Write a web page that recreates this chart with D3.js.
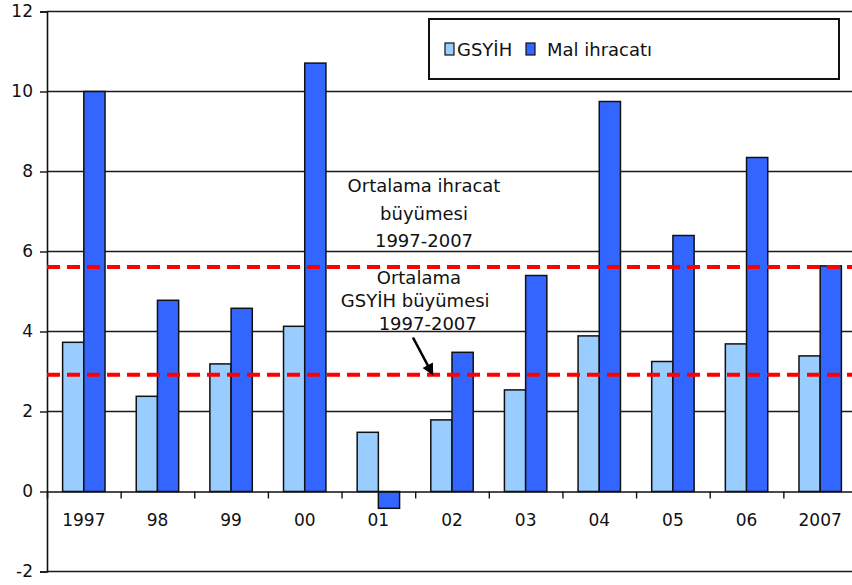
<!DOCTYPE html>
<html>
<head>
<meta charset="utf-8">
<script src="https://cdn.jsdelivr.net/npm/d3@7"></script>
<style>
  html, body { margin: 0; padding: 0; background: #fff; }
  svg { display: block; }
</style>
</head>
<body>
<div id="chart"></div>
<script>
// Data
const years = ["1997", "98", "99", "00", "01", "02", "03", "04", "05", "06", "2007"];
const gsyih = [3.73, 2.38, 3.19, 4.13, 1.48, 1.79, 2.54, 3.89, 3.25, 3.69, 3.39];
const malIhracati = [10.0, 4.78, 4.58, 10.71, -0.42, 3.48, 5.4, 9.75, 6.4, 8.35, 5.64];
const seriesNames = ["GSYİH", "Mal ihracatı"];
const yTicks = [-2, 0, 2, 4, 6, 8, 10, 12];
const avgExportGrowth = 5.61;
const avgGdpGrowth = 2.92;

const width = 852, height = 585;
const colors = { "GSYİH": "#99ccff", "Mal ihracatı": "#3366ff" };

const svg = d3.select("#chart")
  .append("svg")
  .attr("width", width)
  .attr("height", height);

// Scales
const y = d3.scaleLinear().domain([-2, 12]).range([571.5, 11.5]);
const x0 = d3.scaleBand()
  .domain(years)
  .range([47, 857])
  .paddingInner(0.424)
  .paddingOuter(0.212);
const x1 = d3.scaleBand()
  .domain(seriesNames)
  .range([0, x0.bandwidth()]);
// category index scale (group boundaries)
const xi = d3.scaleLinear().domain([0, years.length]).range([47, 857]);

// Gridlines
svg.append("g")
  .selectAll("line")
  .data(yTicks.filter(d => d > 0))
  .enter()
  .append("line")
  .attr("x1", xi(0))
  .attr("x2", xi(years.length))
  .attr("y1", d => y(d))
  .attr("y2", d => y(d))
  .attr("stroke", "#1a1a1a")
  .attr("stroke-width", 1.4);

// bottom border of plot area
svg.append("line")
  .attr("x1", xi(0)).attr("x2", xi(years.length))
  .attr("y1", y(-2)).attr("y2", y(-2))
  .attr("stroke", "#1a1a1a").attr("stroke-width", 1.6);

// Bars
const rows = years.map((yr, i) => ({ year: yr, values: [
  { key: "GSYİH", value: gsyih[i] },
  { key: "Mal ihracatı", value: malIhracati[i] }
]}));

svg.append("g")
  .selectAll("g")
  .data(rows)
  .enter()
  .append("g")
  .attr("transform", d => `translate(${x0(d.year)},0)`)
  .selectAll("rect")
  .data(d => d.values)
  .enter()
  .append("rect")
  .attr("x", d => x1(d.key))
  .attr("y", d => y(Math.max(0, d.value)))
  .attr("width", x1.bandwidth())
  .attr("height", d => Math.abs(y(d.value) - y(0)))
  .attr("fill", d => colors[d.key])
  .attr("stroke", "#111")
  .attr("stroke-width", 1.5);

// Y axis
const yAxis = d3.axisLeft(y)
  .tickValues(yTicks)
  .tickSize(7)
  .tickPadding(7)
  .tickFormat(d => String(d));
const gy = svg.append("g")
  .attr("transform", `translate(${xi(0)},0)`)
  .call(yAxis);
gy.select(".domain").attr("stroke", "#111").attr("stroke-width", 1.6);
gy.selectAll(".tick line").attr("stroke", "#111").attr("stroke-width", 1.4);
gy.selectAll("text")
  .attr("font-family", "DejaVu Sans, Verdana, sans-serif")
  .attr("font-size", 17)
  .attr("fill", "#111");

// X axis at zero: tick marks between groups
const xTickAxis = d3.axisBottom(xi)
  .tickValues(d3.range(1, years.length))
  .tickSize(7)
  .tickFormat("");
const gx = svg.append("g")
  .attr("transform", `translate(0,${y(0)})`)
  .call(xTickAxis);
gx.select(".domain").attr("stroke", "#111").attr("stroke-width", 1.6);
gx.selectAll(".tick line").attr("stroke", "#111").attr("stroke-width", 1.4);

// X labels
const xLabelAxis = d3.axisBottom(x0).tickSize(0).tickPadding(22);
const gxl = svg.append("g")
  .attr("transform", `translate(0,${y(0)})`)
  .call(xLabelAxis);
gxl.select(".domain").remove();
gxl.selectAll("text")
  .attr("font-family", "DejaVu Sans, Verdana, sans-serif")
  .attr("font-size", 17)
  .attr("fill", "#111");

// Average lines (red dashed)
svg.append("g")
  .selectAll("line")
  .data([avgExportGrowth, avgGdpGrowth])
  .enter()
  .append("line")
  .attr("x1", xi(0))
  .attr("x2", xi(years.length))
  .attr("y1", d => y(d))
  .attr("y2", d => y(d))
  .attr("stroke", "#ff0000")
  .attr("stroke-width", 4)
  .attr("stroke-dasharray", "13,7");

// Annotations
const notes = [
  { text: "Ortalama ihracat", xi: 5.12, v: 7.49 },
  { text: "büyümesi", xi: 5.12, v: 6.79 },
  { text: "1997-2007", xi: 5.12, v: 6.11 },
  { text: "Ortalama", xi: 5.05, v: 5.19 },
  { text: "GSYİH büyümesi", xi: 5.0, v: 4.62 },
  { text: "1997-2007", xi: 5.17, v: 4.04 }
];
svg.append("g")
  .selectAll("text")
  .data(notes)
  .enter()
  .append("text")
  .attr("x", d => xi(d.xi))
  .attr("y", d => y(d.v))
  .attr("text-anchor", "middle")
  .attr("font-family", "DejaVu Sans, Verdana, sans-serif")
  .attr("font-size", 18)
  .attr("fill", "#111")
  .text(d => d.text);

// Arrow pointing to GDP average line
svg.append("defs").append("marker")
  .attr("id", "arrowhead")
  .attr("viewBox", "0 0 10 10")
  .attr("refX", 8)
  .attr("refY", 5)
  .attr("markerWidth", 5)
  .attr("markerHeight", 4.5)
  .attr("orient", "auto")
  .append("path")
  .attr("d", "M0,0 L10,5 L0,10 z")
  .attr("fill", "#000");

svg.append("line")
  .attr("x1", xi(4.97)).attr("y1", y(3.85))
  .attr("x2", xi(5.23)).attr("y2", y(2.95))
  .attr("stroke", "#000")
  .attr("stroke-width", 2.6)
  .attr("marker-end", "url(#arrowhead)");

// Legend
const legend = svg.append("g");
legend.append("rect")
  .attr("x", 429).attr("y", 19)
  .attr("width", 410).attr("height", 60)
  .attr("fill", "#fff")
  .attr("stroke", "#111")
  .attr("stroke-width", 2);

const legendItems = [
  { key: "GSYİH", sx: 445, tx: 457 },
  { key: "Mal ihracatı", sx: 526, tx: 547 }
];
legendItems.forEach(it => {
  legend.append("rect")
    .attr("x", it.sx).attr("y", 43)
    .attr("width", 9).attr("height", 12)
    .attr("fill", colors[it.key])
    .attr("stroke", "#111")
    .attr("stroke-width", 1.2);
  legend.append("text")
    .attr("x", it.tx).attr("y", 56)
    .attr("font-family", "DejaVu Sans, Verdana, sans-serif")
    .attr("font-size", 18)
    .attr("fill", "#111")
    .text(it.key);
});
</script>
</body>
</html>
